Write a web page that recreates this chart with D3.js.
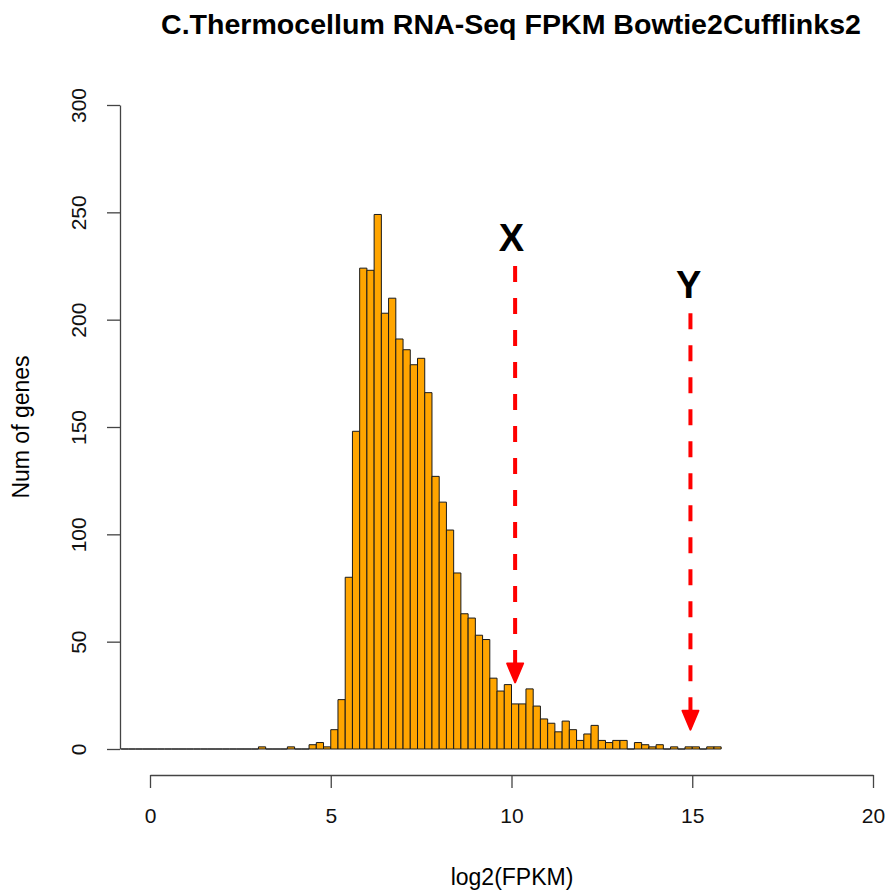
<!DOCTYPE html>
<html lang="en">
<head>
    <meta charset="utf-8">
    <title>C.Thermocellum RNA-Seq FPKM histogram</title>
    <script src="https://d3js.org/d3.v7.min.js"></script>
    <style>
        body {
            margin: 0;
            background-color: #fff;
            font-family: "Liberation Sans", Arial, Helvetica, sans-serif;
        }

        .bar {
            fill: #ffa500;
            stroke: #1a1a1a;
            stroke-width: 1;
        }

        .axis path,
        .axis line {
            stroke: #444;
            stroke-width: 1.3;
        }

        .axis text {
            font-size: 21px;
            fill: #111;
            font-family: "Liberation Sans", Arial, Helvetica, sans-serif;
        }
    </style>
</head>
<body>
    <svg id="chart" width="887" height="892"></svg>

    <script>
        // lower edges of the 0.2 wide bins (log2 FPKM)
        const binStarts = [
            -0.8, -0.6, -0.4, -0.2, 0.0, 0.2, 0.4, 0.6, 0.8, 1.0,
            1.2, 1.4, 1.6, 1.8, 2.0, 2.2, 2.4, 2.6, 2.8, 3.0,
            3.2, 3.4, 3.6, 3.8, 4.0, 4.2, 4.4, 4.6, 4.8, 5.0,
            5.2, 5.4, 5.6, 5.8, 6.0, 6.2, 6.4, 6.6, 6.8, 7.0,
            7.2, 7.4, 7.6, 7.8, 8.0, 8.2, 8.4, 8.6, 8.8, 9.0,
            9.2, 9.4, 9.6, 9.8, 10.0, 10.2, 10.4, 10.6, 10.8, 11.0,
            11.2, 11.4, 11.6, 11.8, 12.0, 12.2, 12.4, 12.6, 12.8, 13.0,
            13.2, 13.4, 13.6, 13.8, 14.0, 14.2, 14.4, 14.6, 14.8, 15.0,
            15.2, 15.4, 15.6
        ];
        const binWidth = 0.2;

        // number of genes in each bin
        const geneCounts = [
            0, 0, 0, 0, 0, 0, 0, 0, 0, 0,
            0, 0, 0, 0, 0, 0, 0, 0, 0, 1,
            0, 0, 0, 1, 0, 0, 2, 3, 1, 9,
            23, 80, 148, 224, 223, 249, 203, 210, 191, 186,
            179, 182, 166, 127, 115, 102, 82, 63, 61, 53,
            51, 33, 27, 30, 21, 21, 28, 20, 14, 12,
            8, 13, 9, 4, 7, 11, 4, 3, 4, 4,
            0, 3, 2, 1, 2, 0, 1, 0, 1, 1,
            0, 1, 1
        ];

        const xTicks = [0, 5, 10, 15, 20];
        const yTicks = [0, 50, 100, 150, 200, 250, 300];

        // annotation arrows (x position, top and tip in counts)
        const arrowLabels = ["X", "Y"];
        const arrowXs = [10.1, 14.95];
        const arrowTops = [225, 203];
        const arrowTips = [31, 9];
        const labelXs = [10.0, 14.9];
        const labelYs = [232, 210];

        const svg = d3.select("#chart");

        let x = d3.scaleLinear().domain([0, 20]).range([150, 873]);
        let y = d3.scaleLinear().domain([0, 300]).range([749, 105]);

        // title
        svg.append("text")
            .attr("x", 511)
            .attr("y", 34)
            .attr("text-anchor", "middle")
            .attr("textLength", 700)
            .attr("lengthAdjust", "spacingAndGlyphs")
            .style("font-weight", "bold")
            .style("font-size", "27px")
            .text("C.Thermocellum RNA-Seq FPKM Bowtie2Cufflinks2");

        // histogram bars (paths so empty bins still show their outline)
        svg.append("g")
            .selectAll("path")
            .data(binStarts)
            .join("path")
            .attr("class", "bar")
            .attr("d", (d, i) => {
                let x0 = x(d), x1 = x(d + binWidth);
                let y0 = y(0), y1 = y(geneCounts[i]);
                return `M${x0},${y0}V${y1}H${x1}V${y0}Z`;
            });

        // y axis
        let yAxis = svg.append("g")
            .attr("class", "axis")
            .attr("transform", `translate(${x(-0.83)},0)`)
            .call(d3.axisLeft(y).tickValues(yTicks).tickSize(13).tickSizeOuter(0));
        yAxis.selectAll("text")
            .attr("x", null)
            .attr("dy", null)
            .attr("text-anchor", "middle")
            .attr("transform", "translate(-34,0) rotate(-90)");

        // x axis
        svg.append("g")
            .attr("class", "axis")
            .attr("transform", "translate(0,775)")
            .call(d3.axisBottom(x).tickValues(xTicks).tickSize(13).tickSizeOuter(0).tickPadding(20));

        // axis titles
        svg.append("text")
            .attr("transform", "translate(29,427) rotate(-90)")
            .attr("text-anchor", "middle")
            .style("font-size", "23px")
            .text("Num of genes");

        svg.append("text")
            .attr("x", 512)
            .attr("y", 885)
            .attr("text-anchor", "middle")
            .style("font-size", "23px")
            .text("log2(FPKM)");

        // red dashed arrows
        let arrows = svg.append("g");
        arrowXs.forEach((ax, i) => {
            let px = x(ax);
            let tip = y(arrowTips[i]);
            arrows.append("line")
                .attr("x1", px).attr("x2", px)
                .attr("y1", y(arrowTops[i])).attr("y2", tip - 10)
                .attr("stroke", "#ff0000")
                .attr("stroke-width", 4)
                .attr("stroke-dasharray", "16,16");
            arrows.append("path")
                .attr("d", `M${px - 8},${tip - 19}L${px},${tip}L${px + 8},${tip - 19}Z`)
                .attr("fill", "#ff0000")
                .attr("stroke", "#ff0000")
                .attr("stroke-width", 2)
                .attr("stroke-linejoin", "round");
            arrows.append("text")
                .attr("x", x(labelXs[i]))
                .attr("y", y(labelYs[i]))
                .attr("text-anchor", "middle")
                .style("font-weight", "bold")
                .style("font-size", "38px")
                .text(arrowLabels[i]);
        });
    </script>
</body>
</html>
